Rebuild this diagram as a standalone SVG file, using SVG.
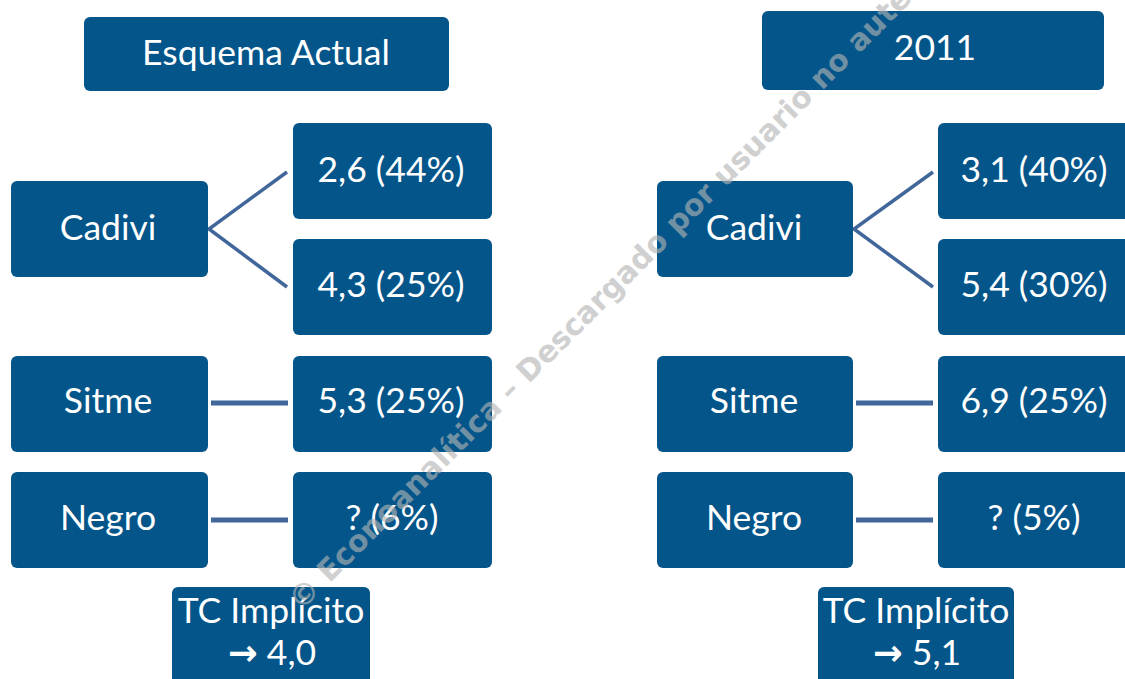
<svg xmlns="http://www.w3.org/2000/svg" width="1125" height="679" viewBox="0 0 1125 679">
<style>
.box{fill:#03558a;}
.t{font-family:Lato,"Liberation Sans","DejaVu Sans",sans-serif;font-size:35.5px;fill:#ffffff;text-anchor:middle;}
.ar{font-family:"DejaVu Sans",sans-serif;font-weight:bold;}
.c{stroke:#41679a;stroke-width:3.5;fill:none;}
.h{stroke-width:5;}
.wm{font-family:"DejaVu Sans",sans-serif;font-weight:bold;font-size:30px;fill:#b4b4b4;opacity:0.62;}
</style>
<rect width="1125" height="679" fill="#ffffff"/>
<g id="connectors">
<polyline class="c" points="287,172 209,229 287,287"/>
<line class="c h" x1="211" y1="403" x2="288" y2="403"/>
<line class="c h" x1="211" y1="520" x2="288" y2="520"/>
<polyline class="c" points="933,172 854,229 933,287"/>
<line class="c h" x1="856" y1="403" x2="933" y2="403"/>
<line class="c h" x1="856" y1="520" x2="933" y2="520"/>
</g>
<g id="esquema"><rect class="box" x="84" y="17" width="365" height="74" rx="6"/><text class="t" x="266" y="65">Esquema Actual</text></g>
<g id="cadivi1"><rect class="box" x="11" y="181" width="197" height="96" rx="6"/><text class="t" x="108" y="240">Cadivi</text></g>
<g id="v26"><rect class="box" x="293" y="123" width="199" height="96" rx="6"/><text class="t" x="391" y="182">2,6 (44%)</text></g>
<g id="v43"><rect class="box" x="293" y="239" width="199" height="96" rx="6"/><text class="t" x="391" y="297">4,3 (25%)</text></g>
<g id="sitme1"><rect class="box" x="11" y="356" width="197" height="96" rx="6"/><text class="t" x="108" y="413">Sitme</text></g>
<g id="v53"><rect class="box" x="293" y="356" width="199" height="96" rx="6"/><text class="t" x="391" y="413">5,3 (25%)</text></g>
<g id="negro1"><rect class="box" x="11" y="472" width="197" height="96" rx="6"/><text class="t" x="108" y="530">Negro</text></g>
<g id="q6"><rect class="box" x="293" y="472" width="199" height="96" rx="6"/><text class="t" x="392" y="530">? (6%)</text></g>
<g id="tc1"><rect class="box" x="172" y="587" width="198" height="110" rx="6"/><text class="t" x="271" y="623">TC Implícito</text><text class="t" x="272" y="665"><tspan class="ar">→</tspan> 4,0</text></g>

<g id="y2011"><rect class="box" x="762" y="11" width="342" height="79" rx="6"/><text class="t" x="935" y="60">2011</text></g>
<g id="cadivi2"><rect class="box" x="657" y="181" width="196" height="96" rx="6"/><text class="t" x="754" y="240">Cadivi</text></g>
<g id="v31"><rect class="box" x="938" y="123" width="199" height="96" rx="6"/><text class="t" x="1034" y="182">3,1 (40%)</text></g>
<g id="v54"><rect class="box" x="938" y="239" width="199" height="96" rx="6"/><text class="t" x="1034" y="297">5,4 (30%)</text></g>
<g id="sitme2"><rect class="box" x="657" y="356" width="196" height="96" rx="6"/><text class="t" x="754" y="413">Sitme</text></g>
<g id="v69"><rect class="box" x="938" y="356" width="199" height="96" rx="6"/><text class="t" x="1034" y="413">6,9 (25%)</text></g>
<g id="negro2"><rect class="box" x="657" y="472" width="196" height="96" rx="6"/><text class="t" x="754" y="530">Negro</text></g>
<g id="q5"><rect class="box" x="938" y="472" width="199" height="96" rx="6"/><text class="t" x="1034" y="530">? (5%)</text></g>
<g id="tc2"><rect class="box" x="818" y="587" width="196" height="110" rx="6"/><text class="t" x="916" y="623">TC Implícito</text><text class="t" x="917" y="665"><tspan class="ar">→</tspan> 5,1</text></g>

<text class="wm" transform="translate(301,612) rotate(-45)">© Econoanalítica – Descargado por usuario no aute</text>
</svg>
